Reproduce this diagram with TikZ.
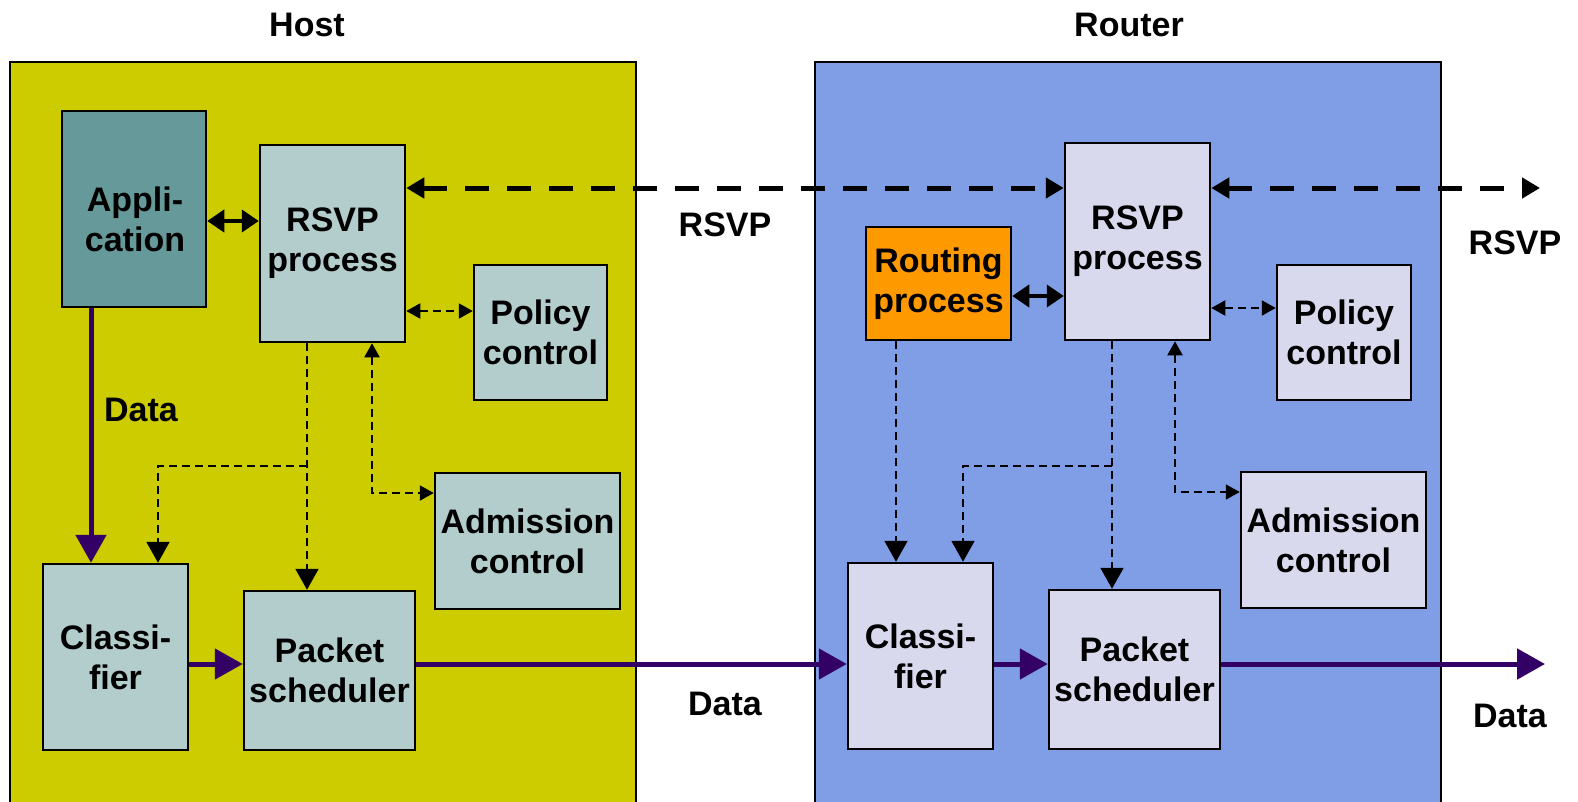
\documentclass[tikz,border=0pt]{standalone}
\usepackage{fontspec}
\setmainfont{Liberation Sans}
\usetikzlibrary{arrows.meta}

\definecolor{hostbg}{RGB}{204,204,0}
\definecolor{routerbg}{RGB}{127,158,230}
\definecolor{appfill}{RGB}{102,153,153}
\definecolor{hostbox}{RGB}{179,204,204}
\definecolor{routerbox}{RGB}{217,217,238}
\definecolor{routefill}{RGB}{255,153,0}
\definecolor{datacol}{RGB}{51,0,102}

\tikzset{
  panel/.style={draw,line width=2pt,inner sep=0,minimum width=626,minimum height=758},
  box/.style={draw,line width=2.5pt,inner sep=0,align=center,font=\bfseries\fontsize{34}{40}\selectfont},
  lbl/.style={font=\bfseries\fontsize{34}{40}\selectfont},
  data/.style={datacol,line width=5pt,-{Triangle[length=28pt,width=30pt]}},
  rsvpsig/.style={line width=5pt,dash pattern=on 24pt off 18pt,{Triangle[length=18pt,width=20pt]}-{Triangle[length=18pt,width=20pt]}},
  link/.style={line width=4pt,{Triangle[length=17pt,width=22pt]}-{Triangle[length=17pt,width=22pt]}},
  ctrl/.style={line width=2pt,dash pattern=on 8pt off 5pt},
  big/.style={-{Triangle[length=21pt,width=23pt]}},
  small/.style={{Triangle[length=14pt,width=15pt]}-{Triangle[length=14pt,width=15pt]}}
}

\begin{document}
\begin{tikzpicture}[x=1pt,y=-1pt]
\useasboundingbox (0,0) rectangle (1578,801);
\clip (0,0) rectangle (1578,801);

% the two systems
\node[panel,fill=hostbg] (host) at (323,441) {};
\node[panel,fill=routerbg] (router) at (1128,441) {};
\node[lbl] (hosttitle) at (307,25) {Host};
\node[lbl] (routertitle) at (1129,25) {Router};

% host
\node[box,fill=appfill,minimum width=144,minimum height=196] (app) at (134,209) {};
\node[lbl,align=center] (apptext) at (135,219) {Appli-\\cation};
\node[box,fill=hostbox,minimum width=145,minimum height=197] (hrsvp) at (332.5,243.5) {RSVP\\process};
\node[box,fill=hostbox,minimum width=133,minimum height=135] (hpol) at (540.5,332.5) {Policy\\control};
\node[box,fill=hostbox,minimum width=185,minimum height=136] (hadm) at (527.5,541) {Admission\\control};
\node[box,fill=hostbox,minimum width=145,minimum height=186] (hcls) at (115.5,657) {Classi-\\fier};
\node[box,fill=hostbox,minimum width=171,minimum height=159] (hsch) at (329.5,670.5) {Packet\\scheduler};

% router
\node[box,fill=routefill,minimum width=145,minimum height=113] (rrout) at (938.5,283.5) {Routing\\process};
\node[box,fill=routerbox,minimum width=145,minimum height=197] (rrsvp) at (1137.5,241.5) {RSVP\\process};
\node[box,fill=routerbox,minimum width=134,minimum height=135] (rpol) at (1344,332.5) {Policy\\control};
\node[box,fill=routerbox,minimum width=185,minimum height=136] (radm) at (1333.5,540) {Admission\\control};
\node[box,fill=routerbox,minimum width=145,minimum height=186] (rcls) at (920.5,656) {Classi-\\fier};
\node[box,fill=routerbox,minimum width=171,minimum height=159] (rsch) at (1134.5,669.5) {Packet\\scheduler};

% RSVP messages
\coordinate (hsig) at ([yshift=55.5pt]hrsvp.east);
\coordinate (rsvpout) at (1540,188);
\draw[rsvpsig] (hsig) -- (hsig -| rrsvp.west);
\draw[rsvpsig] (hsig -| rrsvp.east) -- (rsvpout);
\node[lbl] (rsvplbl) at (725,225) {RSVP};
\node[lbl] (rsvpoutlbl) at (1515,243) {RSVP};

\coordinate (happ) at ([yshift=-12pt]app.east);
\draw[link] (happ) -- (happ -| hrsvp.west);
\coordinate (rrt) at ([yshift=-12.5pt]rrout.east);
\draw[link] (rrt) -- (rrt -| rrsvp.west);

% control paths, host
\coordinate (hpin) at ([yshift=21.5pt]hpol.west);
\draw[ctrl,small] (hrsvp.east |- hpin) -- (hpin);
\coordinate (hdown) at ([xshift=-25.5pt]hrsvp.south);
\draw[ctrl,big] (hdown) -- (hdown |- hsch.north);
\coordinate (hbend) at ([yshift=-123pt]hdown);
\draw[ctrl,big] (hbend) -| ([xshift=42.5pt]hcls.north);
\draw[ctrl,small] ([xshift=39.5pt]hrsvp.south) |- ([yshift=48pt]hadm.west);

% control paths, router
\coordinate (rpin) at ([yshift=24.5pt]rpol.west);
\draw[ctrl,small] (rrsvp.east |- rpin) -- (rpin);
\draw[ctrl,big] ([xshift=-42.5pt]rrout.south) -- ([xshift=-24.5pt]rcls.north);
\coordinate (rdown) at ([xshift=-25.5pt]rrsvp.south);
\draw[ctrl,big] (rdown) -- (rdown |- rsch.north);
\coordinate (rbend) at ([yshift=-125pt]rdown);
\draw[ctrl,big] (rbend) -| ([xshift=42.5pt]rcls.north);
\draw[ctrl,small] ([xshift=37.5pt]rrsvp.south) |- ([yshift=48pt]radm.west);

% data path
\draw[data] ([xshift=-43pt]app.south) -- ([xshift=-24.5pt]hcls.north);
\node[lbl] (datalbl) at (141,410) {Data};
\coordinate (hdata) at ([yshift=-7pt]hcls.east);
\draw[data] (hdata) -- (hdata -| hsch.west);
\draw[data] (hdata -| hsch.east) -- (hdata -| rcls.west);
\draw[data] (hdata -| rcls.east) -- (hdata -| rsch.west);
\coordinate (dataout) at (1545,664);
\draw[data] (hdata -| rsch.east) -- (dataout);
\node[lbl] (datamid) at (725,704) {Data};
\node[lbl] (dataend) at (1510,716) {Data};
\end{tikzpicture}
\end{document}
